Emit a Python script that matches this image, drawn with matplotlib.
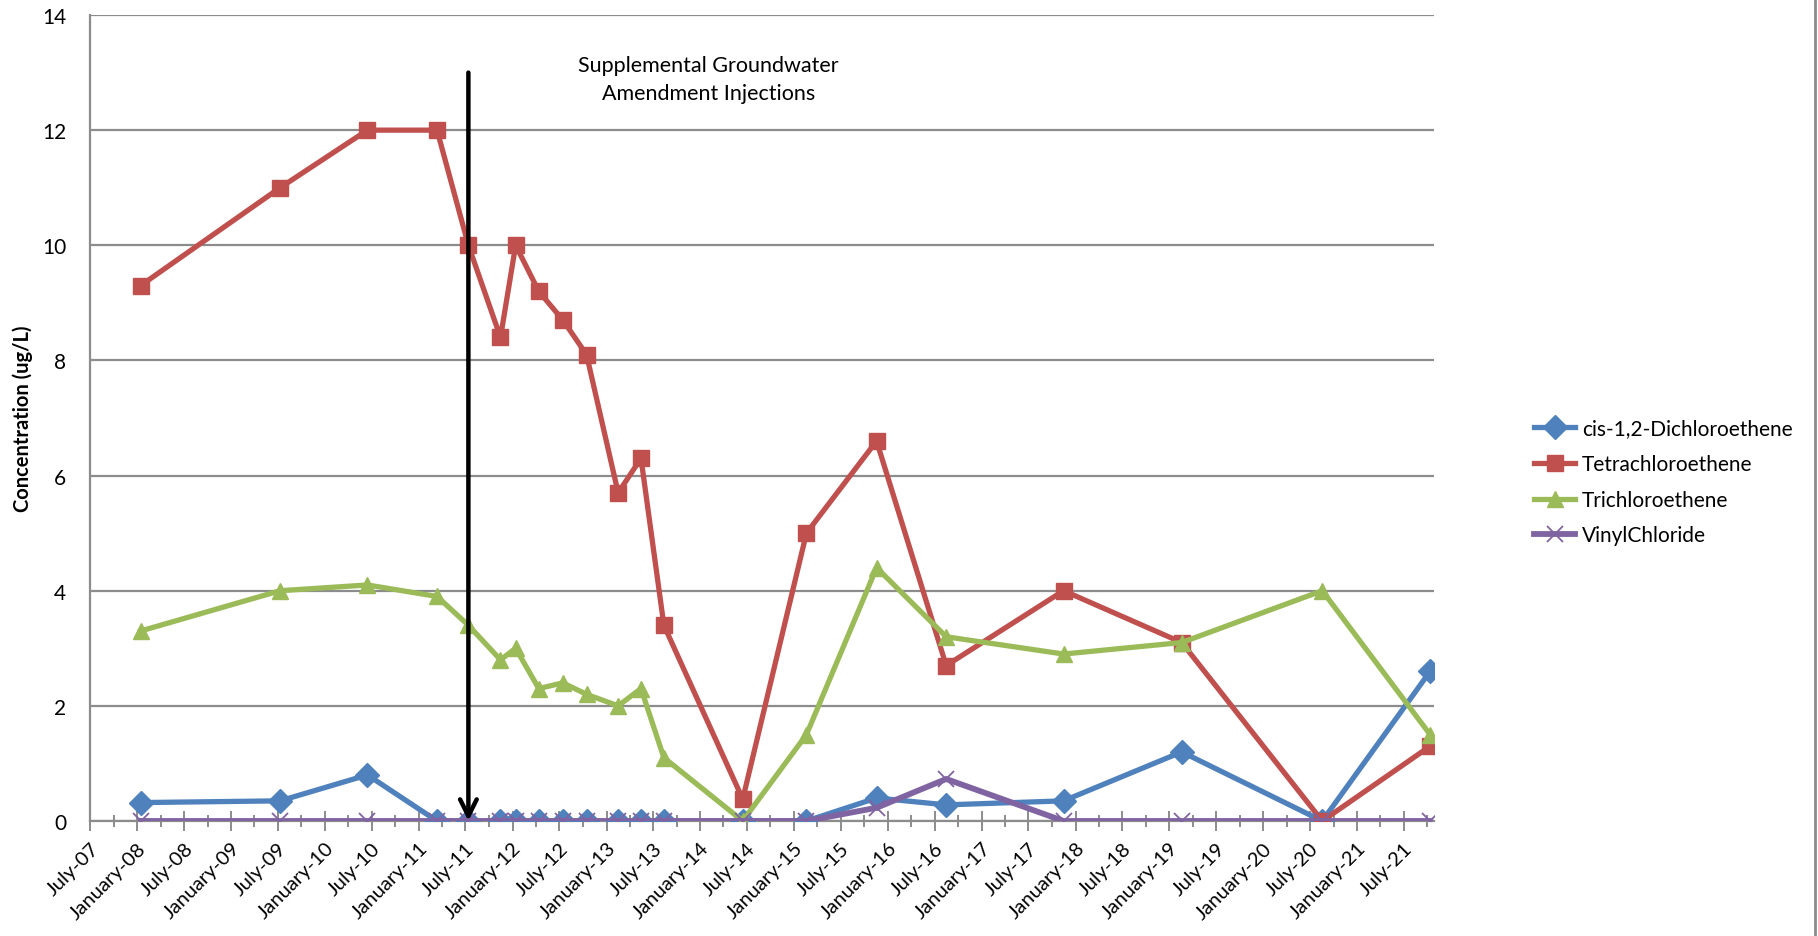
import numpy as np
import pandas as pd
import matplotlib
matplotlib.use("Agg")
import matplotlib.pyplot as plt
import matplotlib.dates as mdates

plt.rcParams['font.family'] = ['Lato', 'DejaVu Sans']

# sampling dates and concentrations (ug/L)
dates = pd.to_datetime([
    "2008-01-14", "2009-07-10", "2010-06-15", "2011-03-13", "2011-07-13",
    "2011-11-15", "2012-01-13", "2012-04-12", "2012-07-15", "2012-10-15",
    "2013-02-15", "2013-05-15", "2013-08-12", "2014-06-15", "2015-02-18",
    "2015-11-18", "2016-08-15", "2017-11-15", "2019-02-18", "2020-08-18",
    "2021-10-12",
])
cis_dce = [0.32, 0.35, 0.8, 0, 0, 0, 0, 0, 0, 0, 0, 0, 0, 0, 0,
           0.4, 0.28, 0.35, 1.2, 0, 2.6]
pce = [9.3, 11, 12, 12, 10, 8.4, 10, 9.2, 8.7, 8.1, 5.7, 6.3, 3.4, 0.38, 5.0,
       6.6, 2.7, 4.0, 3.1, 0, 1.3]
tce = [3.3, 4.0, 4.1, 3.9, 3.4, 2.8, 3.0, 2.3, 2.4, 2.2, 2.0, 2.3, 1.1, 0, 1.5,
       4.4, 3.2, 2.9, 3.1, 4.0, 1.5]
vinyl = [0, 0, 0, 0, 0, 0, 0, 0, 0, 0, 0, 0, 0, 0, 0,
         0.23, 0.73, 0, 0, 0, 0]

injection_date = pd.Timestamp("2011-07-13")

fig = plt.figure(figsize=(18.18, 9.37), dpi=100)
ax = fig.add_axes([90/1818, 1 - 822/937, (1434 - 90)/1818, (822 - 16)/937])

ax.plot(dates, cis_dce, color='#4F81BD', lw=3.8, marker='D', ms=12,
        label='cis-1,2-Dichloroethene', zorder=3)
ax.plot(dates, pce, color='#C0504D', lw=3.8, marker='s', ms=11,
        label='Tetrachloroethene', zorder=4)
ax.plot(dates, tce, color='#9BBB59', lw=3.8, marker='^', ms=12,
        label='Trichloroethene', zorder=5)
ax.plot(dates, vinyl, color='#8064A2', lw=4.2, marker='x', ms=12, mew=1.3,
        label='VinylChloride', zorder=6)

# injection arrow
ax.annotate('', xy=(injection_date, 0), xytext=(injection_date, 13.0),
            arrowprops=dict(arrowstyle='->', color='black', lw=3.2,
                            mutation_scale=30, shrinkA=0, shrinkB=0),
            zorder=7)
ax.text(pd.Timestamp("2014-02-01"), 12.88,
        'Supplemental Groundwater\nAmendment Injections',
        ha='center', va='center', fontsize=15.5, linespacing=1.5)

ax.set_xlim(pd.Timestamp("2007-07-01"), pd.Timestamp("2021-10-27"))
ax.set_ylim(0, 14)
ax.set_yticks(np.arange(0, 15, 2))
ax.grid(axis='y', color='#8c8c8c', lw=1.6)
ax.set_axisbelow(True)

ax.xaxis.set_major_locator(mdates.MonthLocator(bymonth=[1, 7]))
ax.xaxis.set_minor_locator(mdates.MonthLocator(bymonth=[4, 10]))
ax.xaxis.set_major_formatter(mdates.DateFormatter('%B-%y'))
plt.setp(ax.get_xticklabels(), rotation=45, ha='right', rotation_mode='anchor')

ax.tick_params(axis='x', which='major', direction='inout', length=14, width=1.4,
               color='#8c8c8c', labelsize=14.5, pad=6)
ax.tick_params(axis='x', which='minor', direction='inout', length=9, width=1.4,
               color='#8c8c8c')
ax.tick_params(axis='y', length=0, labelsize=15, pad=17)

for side in ['top', 'right']:
    ax.spines[side].set_visible(False)
for side in ['left', 'bottom']:
    ax.spines[side].set_color('#8c8c8c')
    ax.spines[side].set_linewidth(1.6)

ax.set_ylabel('Concentration (ug/L)', fontsize=14.5, fontweight='bold')
ax.yaxis.set_label_coords(-0.0424, 0.5)

ax.legend(loc='center left', bbox_to_anchor=(1515/1818, 1 - 483/937),
          bbox_transform=fig.transFigure, frameon=False, fontsize=15,
          handlelength=2.0, labelspacing=0.75, handletextpad=0.3)

# chart area edge on the right
fig.add_artist(plt.Line2D([1815/1818, 1815/1818], [0, 1], color='#8c8c8c',
                          lw=2, transform=fig.transFigure))

fig.savefig('out.png', dpi=100)
